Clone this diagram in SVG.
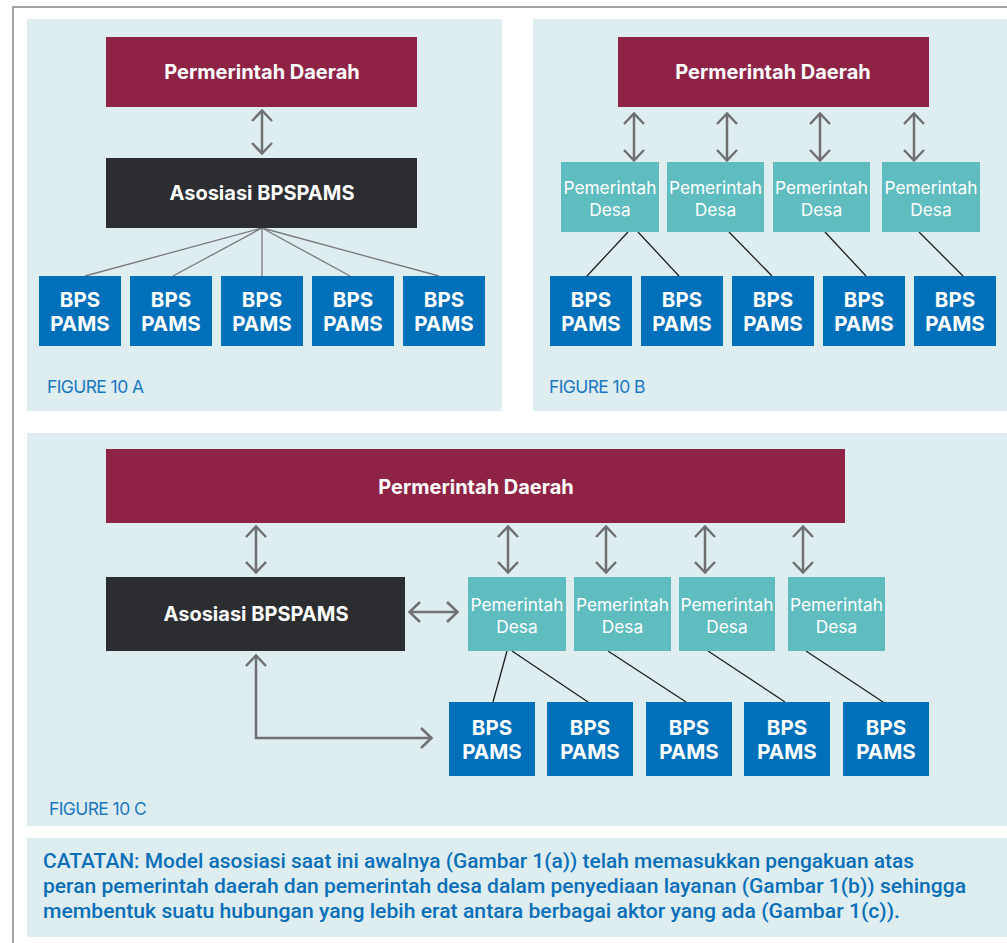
<svg xmlns="http://www.w3.org/2000/svg" width="1007" height="943" viewBox="0 0 1007 943">
<style>
.panel{fill:#ddedf0}
.daerah{fill:#8e2346}
.asos{fill:#2b2d31}
.bps{fill:#0070ba}
.desa{fill:#5fbdc0}
.tb{font-family:Inter,"Liberation Sans",sans-serif;font-weight:700;fill:#fff;text-anchor:middle;dominant-baseline:central}
.t18{font-size:20px}
.t19{font-size:20.5px}
.td{font-family:Inter,"Liberation Sans",sans-serif;font-weight:400;font-size:17.3px;fill:#fff;text-anchor:middle;dominant-baseline:central}
.fig{font-family:Inter,"Liberation Sans",sans-serif;font-weight:400;font-size:17.5px;fill:#1a78c2;dominant-baseline:central;letter-spacing:-0.6px}
.note{font-family:Roboto,"Liberation Sans",sans-serif;font-weight:500;font-size:20px;fill:#0a6fb8;dominant-baseline:central}
.arr{fill:none;stroke:#707070;stroke-width:2.5;marker-start:url(#ah);marker-end:url(#ah)}
.gl{stroke:#7a7a7a;stroke-width:1.3;fill:none}
.bl{stroke:#1e1e1e;stroke-width:1.3;fill:none}
</style>
<defs>
<marker id="ah" viewBox="0 0 14 24" refX="12.5" refY="12" markerWidth="14" markerHeight="24" markerUnits="userSpaceOnUse" orient="auto-start-reverse">
<path d="M1.5,2 L12,12 L1.5,22" fill="none" stroke="#707070" stroke-width="2.5"/>
</marker>
</defs>
<rect width="1007" height="943" fill="#fff"/>
<path d="M13,943 V7 H1007" fill="none" stroke="#a3a3a3" stroke-width="2"/>
<rect class="panel" x="27" y="19" width="475" height="392"/>
<rect class="panel" x="533" y="19" width="474" height="392"/>
<rect class="panel" x="27" y="433" width="980" height="393"/>
<rect class="panel" x="27" y="838" width="980" height="99"/>

<g id="connectors">
<line class="arr" x1="262" y1="110" x2="262" y2="154"/>
<line class="gl" x1="262" y1="228" x2="85" y2="276"/>
<line class="gl" x1="262" y1="228" x2="173" y2="276"/>
<line class="gl" x1="262" y1="228" x2="262" y2="276"/>
<line class="gl" x1="262" y1="228" x2="350" y2="276"/>
<line class="gl" x1="262" y1="228" x2="439" y2="276"/>

<line class="arr" x1="634" y1="113" x2="634" y2="161"/>
<line class="arr" x1="727" y1="113" x2="727" y2="161"/>
<line class="arr" x1="820" y1="113" x2="820" y2="161"/>
<line class="arr" x1="914" y1="113" x2="914" y2="161"/>
<line class="bl" x1="628" y1="232" x2="587" y2="276"/>
<line class="bl" x1="638" y1="232" x2="679" y2="276"/>
<line class="bl" x1="729" y1="232" x2="772" y2="276"/>
<line class="bl" x1="825" y1="232" x2="866" y2="276"/>
<line class="bl" x1="919" y1="232" x2="963" y2="276"/>

<line class="arr" x1="256" y1="526" x2="256" y2="573"/>
<line class="arr" x1="508" y1="526" x2="508" y2="573"/>
<line class="arr" x1="606" y1="526" x2="606" y2="573"/>
<line class="arr" x1="705" y1="526" x2="705" y2="573"/>
<line class="arr" x1="803" y1="526" x2="803" y2="573"/>
<line class="arr" x1="409" y1="612" x2="458" y2="612"/>
<path class="arr" d="M256,655 V738 H432"/>
<line class="bl" x1="507" y1="651" x2="493" y2="702"/>
<line class="bl" x1="512" y1="651" x2="588" y2="702"/>
<line class="bl" x1="608" y1="651" x2="686" y2="702"/>
<line class="bl" x1="708" y1="651" x2="785" y2="702"/>
<line class="bl" x1="806" y1="651" x2="883" y2="702"/>
</g>

<!-- Figure A -->
<g id="a-daerah"><rect class="daerah" x="106" y="37" width="311" height="70"/><text class="tb t18" x="262" y="72">Permerintah Daerah</text></g>
<g id="a-asosiasi"><rect class="asos" x="106" y="158" width="311" height="70"/><text class="tb t18" x="262" y="193">Asosiasi BPSPAMS</text></g>
<g id="a-bps1"><rect class="bps" x="39" y="276" width="82" height="70"/><text class="tb t19" x="80" y="299">BPS</text><text class="tb t19" x="80" y="323">PAMS</text></g>
<g id="a-bps2"><rect class="bps" x="130" y="276" width="82" height="70"/><text class="tb t19" x="171" y="299">BPS</text><text class="tb t19" x="171" y="323">PAMS</text></g>
<g id="a-bps3"><rect class="bps" x="221" y="276" width="82" height="70"/><text class="tb t19" x="262" y="299">BPS</text><text class="tb t19" x="262" y="323">PAMS</text></g>
<g id="a-bps4"><rect class="bps" x="312" y="276" width="82" height="70"/><text class="tb t19" x="353" y="299">BPS</text><text class="tb t19" x="353" y="323">PAMS</text></g>
<g id="a-bps5"><rect class="bps" x="403" y="276" width="82" height="70"/><text class="tb t19" x="444" y="299">BPS</text><text class="tb t19" x="444" y="323">PAMS</text></g>
<text class="fig" x="47" y="386">FIGURE 10 A</text>

<!-- Figure B -->
<g id="b-daerah"><rect class="daerah" x="618" y="37" width="311" height="70"/><text class="tb t18" x="773" y="72">Permerintah Daerah</text></g>
<g id="b-desa1"><rect class="desa" x="561" y="162" width="98" height="70"/><text class="td" x="610" y="187">Pemerintah</text><text class="td" x="610" y="209">Desa</text></g>
<g id="b-desa2"><rect class="desa" x="667" y="162" width="97" height="70"/><text class="td" x="715.5" y="187">Pemerintah</text><text class="td" x="715.5" y="209">Desa</text></g>
<g id="b-desa3"><rect class="desa" x="773" y="162" width="97" height="70"/><text class="td" x="821.5" y="187">Pemerintah</text><text class="td" x="821.5" y="209">Desa</text></g>
<g id="b-desa4"><rect class="desa" x="882" y="162" width="98" height="70"/><text class="td" x="931" y="187">Pemerintah</text><text class="td" x="931" y="209">Desa</text></g>
<g id="b-bps1"><rect class="bps" x="550" y="276" width="82" height="70"/><text class="tb t19" x="591" y="299">BPS</text><text class="tb t19" x="591" y="323">PAMS</text></g>
<g id="b-bps2"><rect class="bps" x="641" y="276" width="82" height="70"/><text class="tb t19" x="682" y="299">BPS</text><text class="tb t19" x="682" y="323">PAMS</text></g>
<g id="b-bps3"><rect class="bps" x="732" y="276" width="82" height="70"/><text class="tb t19" x="773" y="299">BPS</text><text class="tb t19" x="773" y="323">PAMS</text></g>
<g id="b-bps4"><rect class="bps" x="823" y="276" width="82" height="70"/><text class="tb t19" x="864" y="299">BPS</text><text class="tb t19" x="864" y="323">PAMS</text></g>
<g id="b-bps5"><rect class="bps" x="914" y="276" width="82" height="70"/><text class="tb t19" x="955" y="299">BPS</text><text class="tb t19" x="955" y="323">PAMS</text></g>
<text class="fig" x="549" y="386">FIGURE 10 B</text>

<!-- Figure C -->
<g id="c-daerah"><rect class="daerah" x="106" y="449" width="739" height="74"/><text class="tb t18" x="476" y="487">Permerintah Daerah</text></g>
<g id="c-asosiasi"><rect class="asos" x="106" y="577" width="299" height="74"/><text class="tb t18" x="256" y="614">Asosiasi BPSPAMS</text></g>
<g id="c-desa1"><rect class="desa" x="468" y="577" width="98" height="74"/><text class="td" x="517" y="604">Pemerintah</text><text class="td" x="517" y="626">Desa</text></g>
<g id="c-desa2"><rect class="desa" x="574" y="577" width="97" height="74"/><text class="td" x="622.5" y="604">Pemerintah</text><text class="td" x="622.5" y="626">Desa</text></g>
<g id="c-desa3"><rect class="desa" x="679" y="577" width="96" height="74"/><text class="td" x="727" y="604">Pemerintah</text><text class="td" x="727" y="626">Desa</text></g>
<g id="c-desa4"><rect class="desa" x="788" y="577" width="97" height="74"/><text class="td" x="836.5" y="604">Pemerintah</text><text class="td" x="836.5" y="626">Desa</text></g>
<g id="c-bps1"><rect class="bps" x="449" y="702" width="86" height="74"/><text class="tb t19" x="492" y="727">BPS</text><text class="tb t19" x="492" y="751">PAMS</text></g>
<g id="c-bps2"><rect class="bps" x="547" y="702" width="86" height="74"/><text class="tb t19" x="590" y="727">BPS</text><text class="tb t19" x="590" y="751">PAMS</text></g>
<g id="c-bps3"><rect class="bps" x="646" y="702" width="86" height="74"/><text class="tb t19" x="689" y="727">BPS</text><text class="tb t19" x="689" y="751">PAMS</text></g>
<g id="c-bps4"><rect class="bps" x="744" y="702" width="86" height="74"/><text class="tb t19" x="787" y="727">BPS</text><text class="tb t19" x="787" y="751">PAMS</text></g>
<g id="c-bps5"><rect class="bps" x="843" y="702" width="86" height="74"/><text class="tb t19" x="886" y="727">BPS</text><text class="tb t19" x="886" y="751">PAMS</text></g>
<text class="fig" x="49" y="808">FIGURE 10 C</text>

<g id="note">
<text class="note" x="43" y="861" textLength="871" lengthAdjust="spacingAndGlyphs">CATATAN: Model asosiasi saat ini awalnya (Gambar 1(a)) telah memasukkan pengakuan atas</text>
<text class="note" x="43" y="886" textLength="923" lengthAdjust="spacingAndGlyphs">peran pemerintah daerah dan pemerintah desa dalam penyediaan layanan (Gambar 1(b)) sehingga</text>
<text class="note" x="43" y="911" textLength="857" lengthAdjust="spacingAndGlyphs">membentuk suatu hubungan yang lebih erat antara berbagai aktor yang ada (Gambar 1(c)).</text>
</g>
</svg>
